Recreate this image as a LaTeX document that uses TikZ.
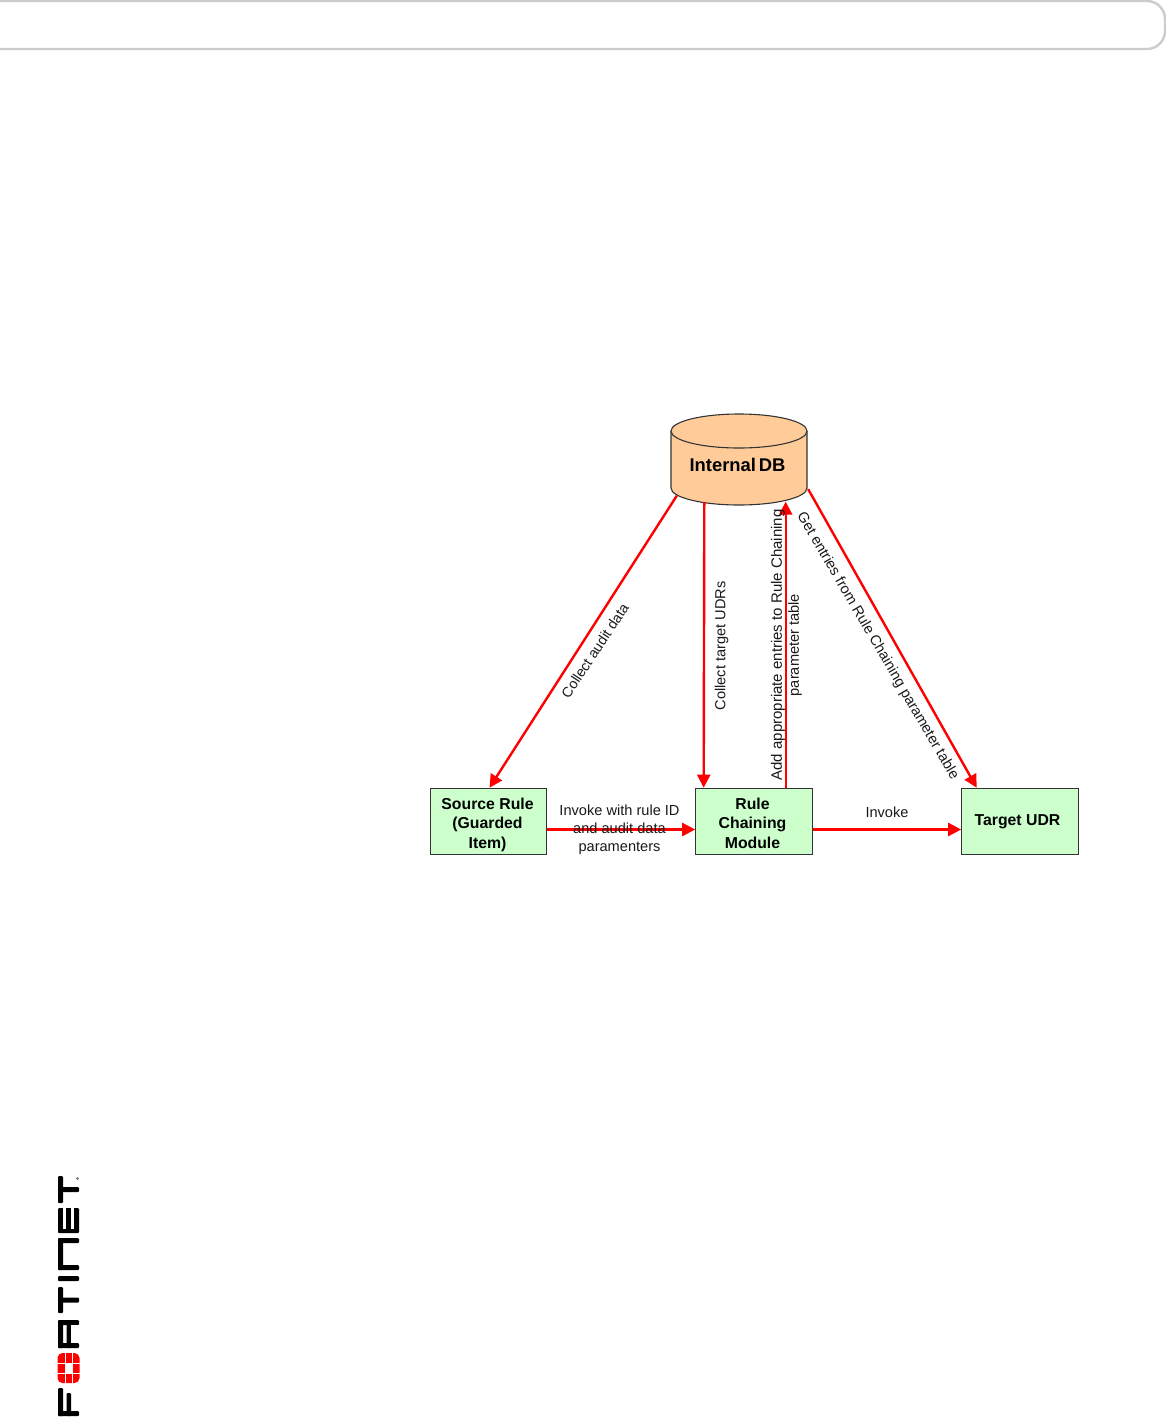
\documentclass[tikz,border=0pt]{standalone}
\usepackage{fontspec}
\setmainfont{Liberation Sans}
\usetikzlibrary{arrows.meta,calc}
\definecolor{boxgreen}{HTML}{CCFFCC}
\definecolor{dbfill}{HTML}{FFCC99}
\definecolor{edge}{HTML}{333333}
\definecolor{barcol}{HTML}{CCCCCC}
\newcommand{\nudge}[3]{\kern#1\raisebox{#2}[\height][\depth]{\begin{tabular}{@{}c@{}}#3\end{tabular}}\kern-#1}
\tikzset{
 x=1pt,y=-1pt,
 pagebar/.style={draw=barcol,line width=2.4pt,rounded corners=18pt},
 greenbox/.style={draw=edge,line width=1.1pt,fill=boxgreen,minimum width=116.5pt,minimum height=66.5pt,inner sep=0pt,font=\fontsize{15.8}{19.5}\selectfont\bfseries},
 dbbody/.style={draw=edge,line width=1.1pt,fill=dbfill},
 flow/.style={draw=red,line width=2.4pt,-{Triangle[length=13pt,width=13pt]}},
 lab/.style={font=\fontsize{14.6}{18}\selectfont,align=center,inner sep=0pt,text=black!90},
 lablong/.style={lab,font=\fontsize{15}{18}\selectfont},
 logoblack/.style={fill=black,draw=none,rounded corners=1pt},
 logored/.style={fill=red,draw=none},
 logogap/.style={fill=white,draw=none},
}
\begin{document}
\begin{tikzpicture}
\useasboundingbox (0,0) rectangle (1166,1417);
\draw[pagebar] (-30,1) -- (1165,1) -- (1165,49) -- (-30,49);
% cylinder
\path[dbbody] (671,431) -- (671,488) .. controls (671,497.4) and (701.4,505) .. (739,505) .. controls (776.6,505) and (807,497.4) .. (807,488) -- (807,431) .. controls (807,421.6) and (776.6,414) .. (739,414) .. controls (701.4,414) and (671,421.6) .. (671,431) -- cycle;
\path[dbbody] (671,431) .. controls (671,440.4) and (701.4,448) .. (739,448) .. controls (776.6,448) and (807,440.4) .. (807,431);
\node[inner sep=0pt,minimum width=136pt,minimum height=91pt] (db) at (739,459.5) {};
\node[font=\fontsize{18.4}{22}\selectfont\bfseries,inner sep=0pt] (dbt) at (737.5,465) {Internal\hspace{-0.12em} DB};
\node[greenbox] (src) at (488.5,821.5) {\nudge{-1pt}{-3.5pt}{Source Rule\\(Guarded\\Item)}};
\node[greenbox] (rcm) at (754,821.5) {\nudge{-1.5pt}{-3.5pt}{Rule\\Chaining\\Module}};
\node[greenbox] (tgt) at (1020,821.5) {\nudge{-2.5pt}{-0.5pt}{Target UDR}};
\draw[flow] ($(db.south west)+(6,-9.5)$) -- ($(src.north)+(1,0)$);
\draw[flow] ($(db.south west)+(33.5,-3)$) -- ($(rcm.north west)+(8.5,0)$);
\draw[flow] ($(rcm.north west)+(90.5,0)$) -- ($(rcm.north west)+(90.5,-286)$);
\draw[flow] ($(db.south east)+(1,-16)$) -- ($(tgt.north west)+(15.5,0)$);
\draw[flow] (src.east |- 0,829.5) -- (rcm.west |- 0,829.5);
\draw[flow] (rcm.east |- 0,829.5) -- (tgt.west |- 0,829.5);
\node[lab] (l1) at (619.5,830) {Invoke with rule ID\\and audit data\\paramenters};
\node[lab] (l2) at (887,812) {Invoke};
\node[lab,font=\fontsize{14.2}{18}\selectfont,rotate=56.5] (l3) at (595,650.5) {Collect audit data};
\node[lab,rotate=90] (l4) at (721.5,646) {Collect target UDRs};
\node[lablong,rotate=90] (l5) at (778,645) {Add appropriate entries to Rule Chaining};
\node[lab,rotate=90] (l5b) at (795,645) {parameter table};
\node[lab,rotate=-59.7] (l6) at (877.5,646) {Get entries from Rule Chaining parameter table};
% logo (top to bottom of the page): T E N I T R O F
% T
\fill[logoblack] (58,1176) rectangle (63,1203);
\fill[logoblack] (58,1187) rectangle (79,1192);
\fill[gray] (77.5,1178.5) circle (1.6);
% E
\fill[logoblack] (58,1208) rectangle (79,1233);
\fill[logogap] (63,1208) rectangle (66,1229);
\fill[logogap] (71,1208) rectangle (74,1229);
% N
\fill[logoblack] (58,1238) rectangle (79,1243);
\fill[logoblack] (58,1265) rectangle (79,1270);
\fill[logoblack] (58,1238) rectangle (63,1270);
% I
\fill[logoblack] (58,1276) rectangle (79,1281);
% T
\fill[logoblack] (58,1287) rectangle (63,1313);
\fill[logoblack] (58,1297.5) rectangle (79,1302.5);
% R
\fill[logoblack] (58,1320) rectangle (79,1325);
\fill[logoblack] (58,1343) rectangle (79,1348);
\fill[logoblack] (58,1320) rectangle (63,1348);
\fill[logoblack] (66.5,1320) rectangle (71,1348);
\fill[logogap] (71,1325) rectangle (79,1343);
% O (red)
\fill[logored,rounded corners=5pt] (57.5,1353) rectangle (79.5,1383);
\fill[logogap] (64.5,1353) rectangle (66,1383);
\fill[logogap] (71.5,1353) rectangle (73,1383);
\fill[logogap] (57,1362.5) rectangle (80,1364);
\fill[logogap] (57,1372.5) rectangle (80,1374);
\fill[logogap] (66,1364) rectangle (71.5,1372.5);
% F
\fill[logoblack] (58,1388) rectangle (63,1416);
\fill[logoblack] (58,1411) rectangle (79,1416);
\fill[logoblack] (66.5,1393) rectangle (71,1416);
\end{tikzpicture}
\end{document}
